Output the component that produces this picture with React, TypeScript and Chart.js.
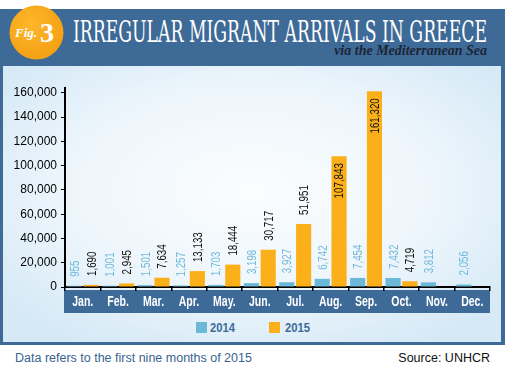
import React, { useEffect, useRef } from 'react';
import { Chart, registerables } from 'chart.js';

Chart.register(...registerables);

const months = ['Jan.', 'Feb.', 'Mar.', 'Apr.', 'May.', 'Jun.', 'Jul.', 'Aug.', 'Sep.', 'Oct.', 'Nov.', 'Dec.'];
const arrivals2014 = [955, 1001, 1501, 1257, 1703, 3198, 3927, 6742, 7454, 7432, 3812, 2056];
const arrivals2015 = [1690, 2945, 7634, 13133, 18444, 30717, 51951, 107843, 161320, 4719, null, null];
const seriesNames = ['2014', '2015'];
const yTickValues = [0, 20000, 40000, 60000, 80000, 100000, 120000, 140000, 160000];
const yMax = 164000;

const SANS = '"Liberation Sans", Arial, sans-serif';
const C2014 = '#6cb8d9';
const C2015 = '#fbb01a';
const FRAME = '#3e6a98';
const NARROW_SCALE = 0.78;

const axisBand = {
  id: 'axisBand',
  beforeDraw(chart: any) {
    const { ctx, chartArea } = chart;
    ctx.save();
    ctx.fillStyle = FRAME;
    ctx.fillRect(chartArea.left - 1, chartArea.bottom + 3, chartArea.right - chartArea.left + 1, 23);
    ctx.restore();
  },
  afterDraw(chart: any) {
    const { ctx, chartArea } = chart;
    const xs = chart.scales.x;
    (chart.data.labels as string[]).forEach((m, i) => {
      const x = xs.getPixelForValue(i);
      ctx.save();
      ctx.translate(x, chartArea.bottom + 15);
      ctx.scale(0.75, 1);
      ctx.font = `bold 14px ${SANS}`;
      ctx.fillStyle = '#ffffff';
      ctx.textAlign = 'center';
      ctx.textBaseline = 'middle';
      ctx.fillText(m, 0, 0);
      ctx.restore();
    });
  },
};

const barLabels = {
  id: 'barLabels',
  afterDatasetsDraw(chart: any) {
    const ctx = chart.ctx;
    chart.data.datasets.forEach((ds: any, di: number) => {
      const meta = chart.getDatasetMeta(di);
      meta.data.forEach((bar: any, i: number) => {
        const v = ds.data[i];
        if (v == null) return;
        const inside = v > 100000;
        ctx.save();
        ctx.translate(bar.x + 1, bar.y + (inside ? 7 : -9));
        ctx.rotate(-Math.PI / 2);
        ctx.scale(NARROW_SCALE, 1);
        ctx.font = `12.5px ${SANS}`;
        ctx.fillStyle = di === 0 ? '#70b9da' : '#111111';
        ctx.textAlign = inside ? 'right' : 'left';
        ctx.textBaseline = 'middle';
        ctx.fillText(Number(v).toLocaleString('en-US'), 0, 0);
        ctx.restore();
      });
    });
  },
};

export default function App() {
  const canvasRef = useRef<HTMLCanvasElement | null>(null);

  useEffect(() => {
    if (!canvasRef.current) return;
    const chart = new Chart(canvasRef.current, {
      type: 'bar',
      data: {
        labels: months,
        datasets: [
          { label: seriesNames[0], data: arrivals2014, backgroundColor: C2014, categoryPercentage: 0.95, barPercentage: 0.9 },
          { label: seriesNames[1], data: arrivals2015 as any, backgroundColor: C2015, categoryPercentage: 0.95, barPercentage: 0.9 },
        ],
      },
      options: {
        animation: false,
        responsive: false,
        maintainAspectRatio: false,
        layout: { padding: { top: 22, right: 15, bottom: 33, left: 0 } },
        plugins: { legend: { display: false }, tooltip: { enabled: false } },
        scales: {
          x: {
            grid: { display: true, drawOnChartArea: false, drawTicks: true, tickLength: 4, color: '#000', lineWidth: 1.5, offset: true },
            border: { display: true, color: '#000', width: 2 },
            ticks: { display: false },
            afterFit(s: any) { s.height = 26; },
          },
          y: {
            min: 0,
            max: yMax,
            grid: { drawOnChartArea: false, drawTicks: true, tickLength: 4, color: '#000' },
            border: { display: true, color: '#000', width: 2 },
            ticks: {
              color: '#000',
              font: { family: SANS, size: 12 },
              padding: 4,
              callback: (v: any) => Number(v).toLocaleString('en-US'),
            },
            afterBuildTicks(s: any) { s.ticks = yTickValues.map((v) => ({ value: v })); },
            afterFit(s: any) { s.width = 65; },
          },
        },
      },
      plugins: [axisBand, barLabels],
    } as any);
    return () => chart.destroy();
  }, []);

  return (
    <div style={{ position: 'absolute', left: 0, top: 0, width: 505, height: 368, background: '#fff', overflow: 'hidden' }}>
      <svg width={505} height={368} style={{ position: 'absolute', left: 0, top: 0 }}>
        <defs>
          <radialGradient id="panelGrad" cx="50%" cy="45%" r="65%">
            <stop offset="0%" stopColor="#fbfdfe" />
            <stop offset="55%" stopColor="#eef6fc" />
            <stop offset="100%" stopColor="#d5e9f6" />
          </radialGradient>
          <radialGradient id="figGrad" cx="40%" cy="35%" r="70%">
            <stop offset="0%" stopColor="#fdb62a" />
            <stop offset="100%" stopColor="#f59f12" />
          </radialGradient>
        </defs>
        <rect x={0} y={9} width={505} height={336} fill={FRAME} />
        <rect x={3} y={66} width={498} height={276} fill="url(#panelGrad)" />
        <circle cx={36.5} cy={32.5} r={27} fill="url(#figGrad)" />
        <text x={15} y={37} fontFamily='"Liberation Serif", serif' fontStyle="italic" fontWeight="bold" fontSize={13} fill="#fff">Fig.</text>
        <text x={40} y={42} fontFamily='"Liberation Serif", serif' fontWeight="bold" fontSize={28} fill="#fff">3</text>
        <text x={73} y={42} textLength={414} lengthAdjust="spacingAndGlyphs" fontFamily='"DejaVu Serif Condensed", "DejaVu Serif", serif' fontSize={29} fill="#fff">IRREGULAR MIGRANT ARRIVALS IN GREECE</text>
        <text x={487} y={55} textAnchor="end" fontFamily='"Liberation Serif", serif' fontStyle="italic" fontWeight="bold" fontSize={14} fill="#1c2536">via the Mediterranean Sea</text>
        <rect x={196} y={322} width={11} height={11} fill={C2014} />
        <text x={210} y={332} textLength={25} lengthAdjust="spacingAndGlyphs" fontFamily={SANS} fontWeight="bold" fontSize={13} fill={FRAME}>{seriesNames[0]}</text>
        <rect x={269} y={322} width={11} height={11} fill={C2015} />
        <text x={285} y={332} textLength={25} lengthAdjust="spacingAndGlyphs" fontFamily={SANS} fontWeight="bold" fontSize={13} fill={FRAME}>{seriesNames[1]}</text>
        <text x={15} y={362} fontFamily={SANS} fontSize={12.5} fill="#3a6391">Data refers to the first nine months of 2015</text>
        <text x={490} y={362} textAnchor="end" fontFamily={SANS} fontSize={12.5} fill="#111">Source: UNHCR</text>
      </svg>
      <canvas ref={canvasRef} width={505} height={280} style={{ position: 'absolute', left: 0, top: 66 }} />
    </div>
  );
}
